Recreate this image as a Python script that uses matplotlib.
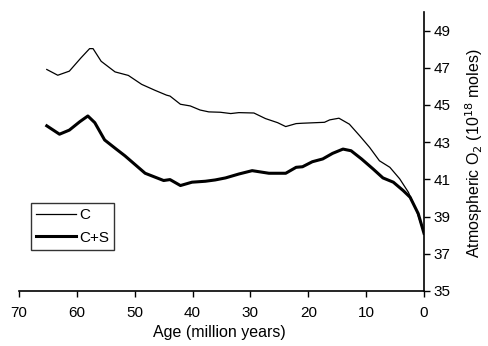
import matplotlib
matplotlib.use("Agg")
import matplotlib.pyplot as plt

plt.rcParams['font.family'] = ['Liberation Sans', 'DejaVu Sans']

# Age (million years) and atmospheric O2 (10^18 moles)
age_c = [65.2, 63.3, 61.3, 59.3, 57.8, 57.2, 55.8, 53.4, 51.1, 48.8, 46.5, 44.5,
         43.9, 42.1, 40.4, 38.7, 37.2, 35.2, 33.4, 32.0, 29.4, 27.4, 25.3, 23.9,
         22.1, 21.0, 17.2, 16.3, 14.7, 12.9, 11.1, 9.4, 7.7, 5.9, 4.2, 2.7, 1.3, 0.0]
o2_c = [46.91, 46.60, 46.82, 47.53, 48.03, 48.03, 47.35, 46.78, 46.59, 46.11, 45.79, 45.53,
        45.48, 45.04, 44.95, 44.73, 44.63, 44.61, 44.54, 44.59, 44.57, 44.27, 44.05, 43.84,
        44.00, 44.02, 44.07, 44.20, 44.29, 43.97, 43.34, 42.72, 42.00, 41.65, 41.03, 40.31, 39.33, 38.10]

age_cs = [65.2, 63.0, 61.3, 59.5, 58.1, 56.9, 55.2, 53.2, 51.7, 48.2, 45.0, 43.9, 42.1,
          40.1, 37.8, 36.1, 34.3, 32.0, 29.7, 26.8, 23.9, 22.1, 21.0, 19.3, 17.5, 15.8,
          14.0, 12.6, 10.8, 8.8, 7.1, 5.3, 3.6, 2.4, 1.0, 0.0]
o2_cs = [43.88, 43.43, 43.65, 44.10, 44.41, 44.05, 43.12, 42.63, 42.27, 41.33, 40.94, 40.99, 40.67,
         40.85, 40.90, 40.97, 41.08, 41.29, 41.47, 41.33, 41.33, 41.65, 41.68, 41.95, 42.10, 42.40,
         42.63, 42.54, 42.10, 41.56, 41.08, 40.85, 40.40, 40.04, 39.16, 38.10]

xticks = [70, 60, 50, 40, 30, 20, 10, 0]
yticks = [35, 37, 39, 41, 43, 45, 47, 49]

fig = plt.figure(figsize=(4.88, 3.46), dpi=100)
ax = fig.add_axes([19/488, 55/346, 405/488, 279/346])

ax.plot(age_c, o2_c, color='black', lw=0.9, label='C')
ax.plot(age_cs, o2_cs, color='black', lw=2.2, label='C+S')

ax.set_xlim(70, 0)
ax.set_ylim(35, 50)
ax.set_xticks(xticks)
ax.set_yticks(yticks)

ax.spines['top'].set_visible(False)
ax.spines['left'].set_visible(False)
ax.spines['bottom'].set_linewidth(1.2)
ax.spines['right'].set_linewidth(1.2)
ax.yaxis.tick_right()
ax.tick_params(axis='both', direction='out', length=4, width=1, labelsize=11)
ax.tick_params(axis='x', pad=7)
ax.tick_params(axis='y', pad=3)

fig.text(219.5/488, 1 - 333/346, 'Age (million years)', fontsize=11.5,
         ha='center', va='center')
fig.text(474/488, 1 - 153.5/346, 'Atmospheric O$_2$ (10$^{18}$ moles)', fontsize=11.5,
         rotation=90, ha='center', va='center')

leg = ax.legend(loc='upper left', bbox_to_anchor=(12/405, (291-203)/279), fontsize=11,
                frameon=True, fancybox=False, edgecolor='black', handlelength=2.6,
                handletextpad=0.2, borderpad=0.35, labelspacing=0.55, borderaxespad=0)
leg.get_frame().set_linewidth(1.0)

fig.savefig('out.png', dpi=100)
